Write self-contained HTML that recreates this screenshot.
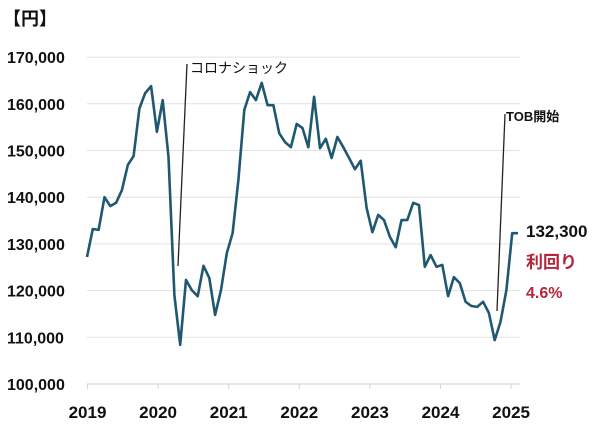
<!DOCTYPE html>
<html><head><meta charset="utf-8"><style>
html,body{margin:0;padding:0;background:#fff;}
svg{display:block;font-family:"Liberation Sans","Noto Sans CJK JP",sans-serif;}
</style></head><body>
<svg width="600" height="425" viewBox="0 0 600 425">
<g id="grid"></g><g id="yticks"></g><g id="xticks"></g>
<text x="3" y="25" font-size="18" font-weight="bold" fill="#111">【円】</text>
<g id="series"></g>
<line x1="178" y1="266" x2="187" y2="64" stroke="#222" stroke-width="1.3"/>
<text x="190" y="73" font-size="14" fill="#111">コロナショック</text>
<line x1="497" y1="311" x2="505" y2="114" stroke="#222" stroke-width="1.3"/>
<text x="506" y="121" font-size="13" font-weight="bold" fill="#111">TOB開始</text>
<text x="526" y="237" font-size="17" font-weight="bold" fill="#111">132,300</text>
<text x="526" y="268" font-size="17" font-weight="bold" fill="#b3263a">利回り</text>
<text x="526" y="298" font-size="16" font-weight="bold" fill="#b3263a">4.6%</text>
</svg>
<script>
const yTicks=[100000,110000,120000,130000,140000,150000,160000,170000];
const yTickLabels=["100,000","110,000","120,000","130,000","140,000","150,000","160,000","170,000"];
const xYears=[2019,2020,2021,2022,2023,2024,2025];
const priceK=[127.2,133.2,133,140,138.1,138.8,141.5,146.9,148.8,159,162.3,163.8,154,160.8,148.6,119,108.4,122.3,120.1,118.8,125.3,122.7,114.8,120.1,128,132.3,143.7,158.7,162.5,160.8,164.5,159.7,159.7,153.7,151.8,150.7,155.7,154.8,150.7,161.5,150.5,152.5,148.4,152.9,150.7,148.4,146,147.8,137.7,132.5,136.2,135.1,131.5,129.3,135.1,135.1,138.8,138.3,125.1,127.6,125.1,125.5,118.8,122.9,121.6,117.6,116.7,116.5,117.6,115.2,109.4,113.3,120.1,132.3,132.3];
const NS="http://www.w3.org/2000/svg";
function y(v){return 384-(v-100000)/10000*46.7;}
function xYear(yr){return 87.5+(yr-2019)*70.6;}
function xIdx(i){return 87+i*(518-87)/(priceK.length-1);}
function mk(tag,attrs,parent){const e=document.createElementNS(NS,tag);for(const k in attrs)e.setAttribute(k,attrs[k]);document.getElementById(parent).appendChild(e);return e;}
yTicks.forEach((v,i)=>{
 if(i>0){const g=mk('line',{x1:87,x2:520,y1:y(v),y2:y(v),stroke:'#e2e2e2','stroke-width':1},'grid');
 
 }
 const t=mk('text',{x:7,y:y(v)+6,'font-size':16,'font-weight':'bold',fill:'#111'},'yticks');
 t.textContent=yTickLabels[i];
 
 
});
const ax=mk('line',{x1:87,x2:520,y1:384,y2:384,stroke:'#d6d6d6','stroke-width':1.2},'xticks');


xYears.forEach(yr=>{
 const tk=mk('line',{x1:xYear(yr),x2:xYear(yr),y1:384,y2:389,stroke:'#d6d6d6'},'xticks');
 
 
 const t=mk('text',{x:xYear(yr),y:418,'font-size':17,'font-weight':'bold',fill:'#111','text-anchor':'middle'},'xticks');
 t.textContent=yr;
 
 
});
const pts=priceK.map((v,i)=>xIdx(i).toFixed(1)+','+y(v*1000).toFixed(1)).join(' ');
const pl=mk('polyline',{points:pts,fill:'none',stroke:'#1f5870','stroke-width':2.6,'stroke-linejoin':'round'},'series');


</script>
</body></html>
